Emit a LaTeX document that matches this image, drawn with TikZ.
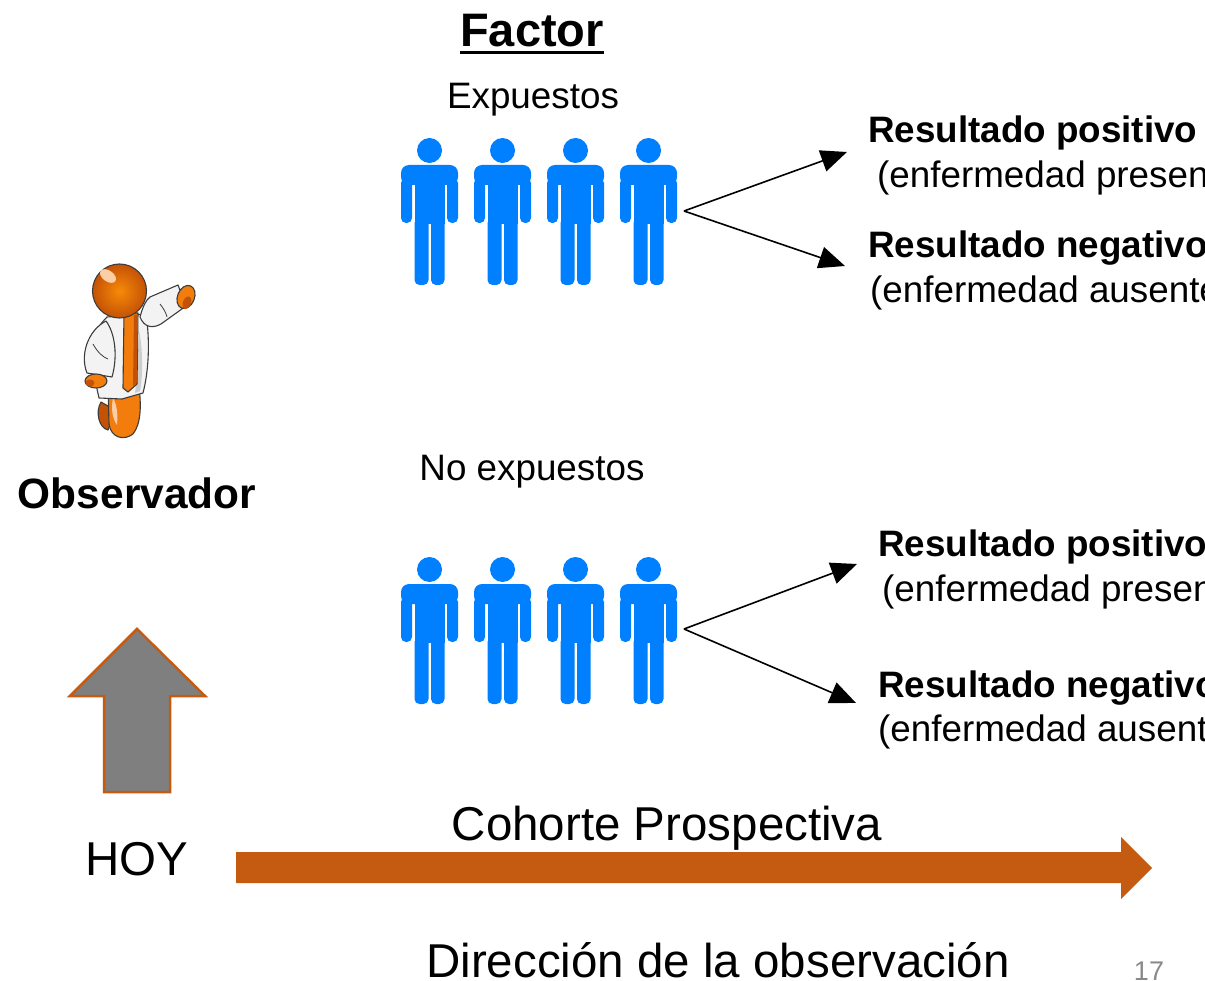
\documentclass[tikz,border=0pt]{standalone}
\usepackage{fontspec}
\setmainfont{Liberation Sans}
\usetikzlibrary{arrows.meta}
\definecolor{iconblue}{RGB}{0,128,255}
\definecolor{rust}{RGB}{197,90,17}
\definecolor{arrowgray}{RGB}{127,127,127}
\definecolor{orangeM}{RGB}{242,124,12}
\definecolor{orangeD}{RGB}{196,82,6}
\definecolor{orangeL}{RGB}{252,206,168}
\definecolor{coat}{RGB}{243,243,243}
\definecolor{coatshade}{RGB}{205,205,205}
\definecolor{outline}{RGB}{60,60,60}
\definecolor{pagenum}{RGB}{137,137,137}

\begin{document}
\begin{tikzpicture}[x=1pt,y=-1pt,
  pics/stickman/.style={code={
    \fill[iconblue] (28.5,12.5) circle (12.5);
    \fill[iconblue, rounded corners=8] (0,27) rectangle (57,47);
    \fill[iconblue, rounded corners=5] (0,40) rectangle (11,85);
    \fill[iconblue, rounded corners=5] (46,40) rectangle (57,85);
    \fill[iconblue] (13.5,27) rectangle (43.5,86);
    \fill[iconblue, rounded corners=5] (13.5,80) rectangle (27.5,147);
    \fill[iconblue, rounded corners=5] (30,80) rectangle (43.5,147);
  }},
  txt/.style={inner sep=0pt, anchor=base west},
  ctxt/.style={inner sep=0pt, anchor=base},
  bigtxt/.style={font=\fontsize{36.8}{42}\selectfont},
  hugetxt/.style={font=\fontsize{47.5}{54}\selectfont},
  conn/.style={line width=1.6pt, -{Triangle[length=26pt,width=22pt]}},
  figline/.style={draw=outline, line width=1.1pt, line join=round}
]
\useasboundingbox (0,0) rectangle (1205,981);
\clip (0,0) rectangle (1205,981);

% ---- title and group labels
\node[ctxt, font=\bfseries\fontsize{47}{54}\selectfont] (factor) at (532,47) {Factor};
\draw[line width=3pt] ([yshift=-6pt]factor.base west) -- ([yshift=-6pt]factor.base east);
\node[ctxt, bigtxt] (expuestos) at (533,109) {Expuestos};
\node[ctxt, bigtxt] (noexpuestos) at (532,480) {No expuestos};

% ---- exposed group
\foreach \i in {0,...,3} \pic at (401+73*\i,138) {stickman};
\coordinate (forkE) at (684,211);
\coordinate (posE) at (847,152);
\coordinate (negE) at (845,266);
\draw[conn] (forkE) -- (posE);
\draw[conn] (forkE) -- (negE);
\node[txt, bigtxt] (rpE) at (868,143) {\bfseries Resultado positivo};
\node[txt, bigtxt] (epE) at (877,188) {(enfermedad presente)};
\node[txt, bigtxt] (rnE) at (868,258) {\bfseries Resultado negativo};
\node[txt, bigtxt] (eaE) at (870,303) {(enfermedad ausente)};

% ---- non-exposed group
\foreach \i in {0,...,3} \pic at (401+73*\i,557) {stickman};
\coordinate (forkN) at (684,629);
\coordinate (posN) at (857,564);
\coordinate (negN) at (856,703);
\draw[conn] (forkN) -- (posN);
\draw[conn] (forkN) -- (negN);
\node[txt, bigtxt] (rpN) at (878,556) {\bfseries Resultado positivo};
\node[txt, bigtxt] (epN) at (882,601) {(enfermedad presente)};
\node[txt, bigtxt] (rnN) at (878,697) {\bfseries Resultado negativo};
\node[txt, bigtxt] (eaN) at (878,741) {(enfermedad ausente)};

% ---- observer figure
% back leg
\fill[orangeD, figline] (101,402) .. controls (95,412) and (99,428) .. (108,430) -- (115,410) -- cycle;
% front leg
\fill[orangeM, figline] (108,386) -- (138,380) .. controls (142,405) and (141,424) .. (133,434)
  .. controls (124,441) and (111,438) .. (109,424) -- cycle;
\fill[orangeL] (113,398) .. controls (111,408) and (112,418) .. (117,425) .. controls (118,414) and (117,405) .. (113,398) -- cycle;
% coat
\fill[coat, figline] (107,317) -- (146,314) .. controls (150,340) and (149,370) .. (143,393)
  -- (122,399) -- (99,398) .. controls (96,385) and (92,365) .. (91,350)
  .. controls (92,336) and (99,325) .. (107,317) -- cycle;
\fill[coatshade] (139,330) .. controls (143,350) and (143,375) .. (140,391) -- (135,393) .. controls (138,372) and (138,350) .. (139,330) -- cycle;
% orange torso stripe
\fill[orangeM, figline] (124,313) -- (138,313) -- (137,384) -- (128,392) -- (123,388) -- cycle;
\fill[orangeD] (134,315) -- (138,315) -- (137,382) -- (133,386) -- cycle;
% hanging arm
\fill[coat, figline] (106,321) .. controls (87,331) and (80,356) .. (87,373)
  -- (112,377) .. controls (118,356) and (115,333) .. (106,321) -- cycle;
\draw[outline, line width=0.8pt] (93,344) .. controls (98,353) and (103,357) .. (108,359);
\fill[orangeM, figline] (96,381) ellipse [x radius=11, y radius=7];
\fill[orangeD] (90,383) ellipse [x radius=4.5, y radius=3.5];
% pointing arm
\fill[coat, figline] (140,317) .. controls (143,306) and (146,300) .. (150,297)
  -- (178,285) -- (186,306) -- (161,324) .. controls (152,329) and (144,327) .. (140,317) -- cycle;
\draw[outline, line width=0.8pt] (160,304) .. controls (164,309) and (166,313) .. (167,317);
\fill[orangeM, figline, rotate around={-22:(186,297)}] (186,297) ellipse [x radius=8.5, y radius=12];
\fill[orangeD, rotate around={-22:(186,297)}] (189,302) ellipse [x radius=4, y radius=6.5];
% head
\shade[inner color=orangeM!70!orange!90!yellow, outer color=orangeD] (119.5,291) circle (27);
\draw[outline, line width=1.1pt] (119.5,291) circle (27);
\fill[orangeL, rotate around={-35:(108,276)}] (108,276) ellipse [x radius=9, y radius=5.5];
\node[ctxt, font=\bfseries\fontsize{42.4}{48}\selectfont] (observador) at (137,508) {Observador};

% ---- "today" arrow
\node[ctxt, hugetxt] (hoy) at (137,875) {HOY};
\draw[fill=arrowgray, draw=rust, line width=2.5pt, line join=miter]
  (137,629) -- (205,696) -- (170,696) -- (170,792) -- (104,792) -- (104,696) -- (70,696) -- cycle;

% ---- direction of observation
\node[ctxt, hugetxt] (cohorte) at (667,840) {Cohorte Prospectiva};
\fill[rust] (236,852) -- (1121,852) -- (1121,837) -- (1152,868) -- (1121,899) -- (1121,883) -- (236,883) -- cycle;
\node[ctxt, hugetxt] (direccion) at (718,977) {Dirección de la observación};
\node[ctxt, font=\fontsize{27}{30}\selectfont, text=pagenum] (pnum) at (1149,980) {17};
\end{tikzpicture}
\end{document}
